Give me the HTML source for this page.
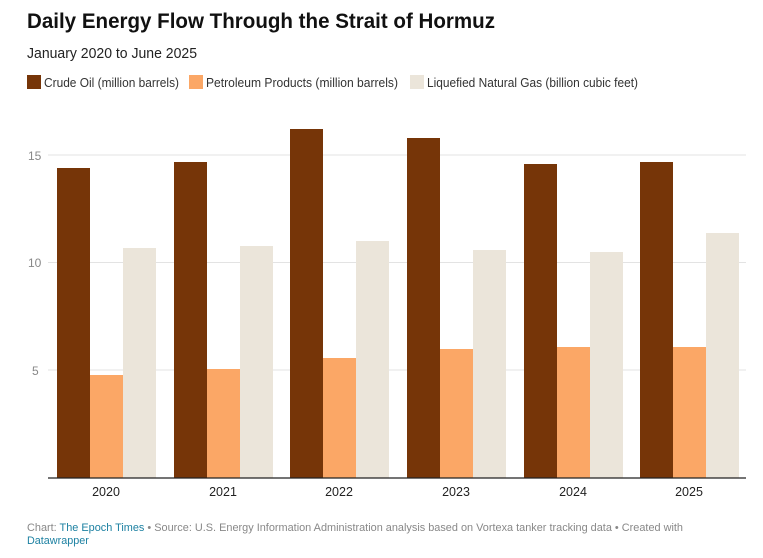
<!DOCTYPE html>
<html><head><meta charset="utf-8"><style>
body{margin:0;background:#fff;width:763px;height:553px;overflow:hidden;font-family:"Liberation Sans",sans-serif}
</style></head><body>
<svg width="763" height="553" xmlns="http://www.w3.org/2000/svg" font-family="Liberation Sans, sans-serif">
<text x="27" y="28" font-size="21" font-weight="bold" fill="#111" textLength="468" lengthAdjust="spacingAndGlyphs">Daily Energy Flow Through the Strait of Hormuz</text>
<text x="27" y="58" font-size="14.5" fill="#222" textLength="170" lengthAdjust="spacingAndGlyphs">January 2020 to June 2025</text>
<rect x="27" y="75" width="14" height="14" fill="#763508"/>
<text x="44" y="87" font-size="12.5" fill="#333" textLength="135" lengthAdjust="spacingAndGlyphs">Crude Oil (million barrels)</text>
<rect x="189" y="75" width="14" height="14" fill="#fba766"/>
<text x="206" y="87" font-size="12.5" fill="#333" textLength="192" lengthAdjust="spacingAndGlyphs">Petroleum Products (million barrels)</text>
<rect x="410" y="75" width="14" height="14" fill="#ebe5da"/>
<text x="427" y="87" font-size="12.5" fill="#333" textLength="211" lengthAdjust="spacingAndGlyphs">Liquefied Natural Gas (billion cubic feet)</text>
<g stroke="#e3e3e3" stroke-width="1">
<line x1="48" y1="155" x2="746" y2="155"/>
<line x1="48" y1="262.5" x2="746" y2="262.5"/>
<line x1="48" y1="370" x2="746" y2="370"/>
</g>
<g font-size="12" fill="#888">
<text x="28" y="160">15</text>
<text x="28" y="267">10</text>
<text x="32" y="375">5</text>
</g>
<g>
<rect x="57" y="168" width="33" height="310" fill="#763508"/><rect x="90" y="375" width="33" height="103" fill="#fba766"/><rect x="123" y="248" width="33" height="230" fill="#ebe5da"/>
<rect x="174" y="162" width="33" height="316" fill="#763508"/><rect x="207" y="369" width="33" height="109" fill="#fba766"/><rect x="240" y="246" width="33" height="232" fill="#ebe5da"/>
<rect x="290" y="129" width="33" height="349" fill="#763508"/><rect x="323" y="358" width="33" height="120" fill="#fba766"/><rect x="356" y="241" width="33" height="237" fill="#ebe5da"/>
<rect x="407" y="138" width="33" height="340" fill="#763508"/><rect x="440" y="349" width="33" height="129" fill="#fba766"/><rect x="473" y="250" width="33" height="228" fill="#ebe5da"/>
<rect x="524" y="164" width="33" height="314" fill="#763508"/><rect x="557" y="347" width="33" height="131" fill="#fba766"/><rect x="590" y="252" width="33" height="226" fill="#ebe5da"/>
<rect x="640" y="162" width="33" height="316" fill="#763508"/><rect x="673" y="347" width="33" height="131" fill="#fba766"/><rect x="706" y="233" width="33" height="245" fill="#ebe5da"/>
</g>
<line x1="48" y1="478" x2="746" y2="478" stroke="#222" stroke-width="1.3"/>
<g font-size="12.5" fill="#222" text-anchor="middle">
<text x="106" y="496">2020</text><text x="223" y="496">2021</text><text x="339" y="496">2022</text>
<text x="456" y="496">2023</text><text x="573" y="496">2024</text><text x="689" y="496">2025</text>
</g>
<text x="27" y="531" font-size="10.8" fill="#888" textLength="656" lengthAdjust="spacingAndGlyphs">Chart: <tspan fill="#1d81a2">The Epoch Times</tspan> • Source: U.S. Energy Information Administration analysis based on Vortexa tanker tracking data • Created with</text>
<text x="27" y="544" font-size="10.8" fill="#1d81a2">Datawrapper</text>
</svg>
</body></html>
